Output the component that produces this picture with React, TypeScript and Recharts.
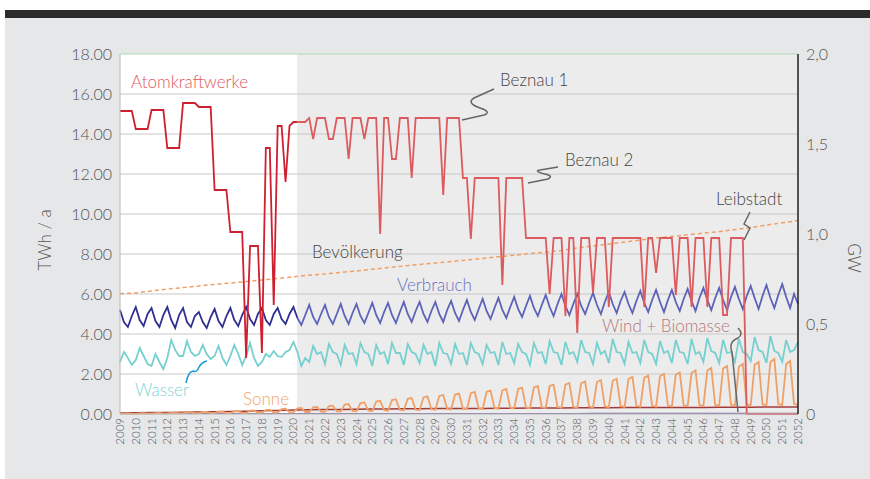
import React from "react";
import { LineChart, Line, XAxis, YAxis, ReferenceArea, ReferenceLine } from "recharts";

// quarterly values, 2009 Q1 .. 2052 Q1 (TWh / a)
const AKW = [
  15.15, 15.15, 15.15, 15.15, // 2009
  14.25, 14.25, 14.25, 14.25, // 2010
  15.2, 15.2, 15.2, 15.2, // 2011
  13.3, 13.3, 13.3, 13.3, // 2012
  15.55, 15.55, 15.55, 15.55, // 2013
  15.35, 15.35, 15.35, 15.35, // 2014
  11.2, 11.2, 11.2, 11.2, // 2015
  9.1, 9.1, 9.1, 9.1, // 2016
  2.8, 8.4, 8.4, 8.4, // 2017
  3.05, 13.3, 13.3, 5.45, // 2018
  14.4, 14.4, 11.6, 14.4, // 2019
  14.6, 14.6, 14.6, 14.6, // 2020
  14.8, 13.75, 14.8, 14.8, // 2021
  14.8, 13.75, 13.75, 14.8, // 2022
  14.8, 14.8, 12.75, 14.8, // 2023
  14.8, 14.8, 13.75, 14.8, // 2024
  14.8, 14.8, 9.0, 14.8, // 2025
  14.8, 12.75, 12.75, 14.8, // 2026
  14.8, 14.8, 11.8, 14.8, // 2027
  14.8, 14.8, 14.8, 14.8, // 2028
  14.8, 14.8, 10.95, 14.8, // 2029
  14.8, 14.8, 14.8, 11.8, // 2030
  11.8, 8.75, 11.8, 11.8, // 2031
  11.8, 11.8, 11.8, 11.8, // 2032
  11.8, 6.45, 11.8, 11.8, // 2033
  11.8, 11.8, 11.8, 8.8, // 2034
  8.8, 8.8, 8.8, 8.8, // 2035
  8.8, 6.0, 8.8, 8.8, // 2036
  8.8, 4.9, 8.8, 8.8, // 2037
  4.05, 8.8, 8.8, 8.8, // 2038
  6.05, 8.8, 8.8, 8.8, // 2039
  5.35, 8.8, 8.8, 8.8, // 2040
  8.8, 8.8, 8.8, 8.8, // 2041
  8.8, 5.35, 8.8, 8.8, // 2042
  7.05, 8.8, 8.8, 8.8, // 2043
  8.8, 5.95, 8.8, 8.8, // 2044
  8.8, 5.35, 8.8, 8.8, // 2045
  8.8, 5.35, 8.8, 8.8, // 2046
  8.8, 4.95, 4.95, 8.8, // 2047
  8.8, 8.8, 8.8, 0, // 2048
  0, 0, 0, 0, // 2049
  0, 0, 0, 0, // 2050
  0, 0, 0, 0, // 2051
  0, // 2052
];

const VERBRAUCH = [
  5.2, 4.6, 4.35, 4.9, // 2009
  5.35, 4.7, 4.4, 5.0, // 2010
  5.3, 4.65, 4.35, 4.95, // 2011
  5.35, 4.7, 4.3, 4.95, // 2012
  5.3, 4.6, 4.35, 4.9, // 2013
  5.1, 4.6, 4.3, 4.85, // 2014
  5.25, 4.65, 4.35, 4.9, // 2015
  5.3, 4.7, 4.4, 4.95, // 2016
  5.35, 4.75, 4.45, 5.0, // 2017
  5.3, 4.7, 4.45, 5.0, // 2018
  5.3, 4.75, 4.5, 5.0, // 2019
  5.35, 4.8, 4.45, 4.95, // 2020
  5.45, 4.85, 4.5, 5.0, // 2021
  5.45, 4.85, 4.5, 5.0, // 2022
  5.5, 4.9, 4.5, 5.05, // 2023
  5.5, 4.9, 4.55, 5.05, // 2024
  5.55, 4.95, 4.55, 5.1, // 2025
  5.55, 4.95, 4.55, 5.1, // 2026
  5.6, 5.0, 4.6, 5.15, // 2027
  5.6, 5.0, 4.6, 5.15, // 2028
  5.6, 5.0, 4.6, 5.2, // 2029
  5.65, 5.05, 4.65, 5.2, // 2030
  5.7, 5.1, 4.7, 5.25, // 2031
  5.75, 5.15, 4.75, 5.3, // 2032
  5.8, 5.2, 4.8, 5.35, // 2033
  5.85, 5.25, 4.85, 5.4, // 2034
  5.9, 5.3, 4.9, 5.45, // 2035
  5.95, 5.35, 4.9, 5.5, // 2036
  6.0, 5.4, 4.95, 5.5, // 2037
  6.0, 5.4, 5.0, 5.55, // 2038
  6.05, 5.45, 5.0, 5.6, // 2039
  6.1, 5.5, 5.05, 5.65, // 2040
  6.1, 5.5, 5.05, 5.65, // 2041
  6.15, 5.55, 5.1, 5.7, // 2042
  6.2, 5.6, 5.1, 5.7, // 2043
  6.2, 5.6, 5.15, 5.75, // 2044
  6.25, 5.65, 5.15, 5.8, // 2045
  6.3, 5.7, 5.2, 5.8, // 2046
  6.3, 5.7, 5.2, 5.85, // 2047
  6.35, 5.75, 5.25, 5.9, // 2048
  6.4, 5.8, 5.25, 5.9, // 2049
  6.45, 5.8, 5.3, 5.95, // 2050
  6.5, 5.85, 5.3, 6.0, // 2051
  5.5, // 2052
];

const WASSER = [
  2.6, 3.1, 2.8, 2.45, // 2009
  2.7, 3.3, 2.9, 2.5, // 2010
  2.4, 3.0, 2.6, 2.25, // 2011
  2.8, 3.7, 3.2, 2.9, // 2012
  2.9, 3.65, 3.1, 2.9, // 2013
  3.0, 3.45, 3.0, 2.75, // 2014
  2.9, 3.4, 2.8, 2.45, // 2015
  2.9, 3.45, 3.0, 2.45, // 2016
  2.9, 3.55, 2.8, 2.4, // 2017
  2.6, 3.0, 2.85, 3.15, // 2018
  2.9, 2.85, 3.1, 3.2, // 2019
  3.6, 3.1, 2.4, 2.8, // 2020
  2.6, 3.4, 3.0, 3.1, // 2021
  2.5, 3.5, 3.1, 3.0, // 2022
  2.45, 3.45, 3.0, 3.05, // 2023
  2.5, 3.55, 3.1, 3.0, // 2024
  2.4, 3.45, 3.0, 3.1, // 2025
  2.5, 3.55, 3.05, 3.05, // 2026
  2.45, 3.5, 3.1, 3.0, // 2027
  2.55, 3.45, 3.0, 3.1, // 2028
  2.4, 3.55, 3.05, 3.0, // 2029
  2.5, 3.5, 3.0, 3.05, // 2030
  2.45, 3.55, 3.1, 3.0, // 2031
  2.5, 3.45, 3.05, 3.1, // 2032
  2.45, 3.6, 3.0, 3.05, // 2033
  2.55, 3.5, 3.1, 3.0, // 2034
  2.45, 3.55, 3.05, 3.1, // 2035
  2.5, 3.65, 3.1, 3.05, // 2036
  2.45, 3.6, 3.0, 3.1, // 2037
  2.6, 3.7, 3.1, 3.05, // 2038
  2.5, 3.55, 3.0, 3.15, // 2039
  2.55, 3.75, 3.1, 3.05, // 2040
  2.5, 3.6, 3.05, 3.1, // 2041
  2.55, 3.7, 3.1, 3.0, // 2042
  2.5, 3.65, 3.05, 3.15, // 2043
  2.55, 3.7, 3.1, 3.05, // 2044
  2.5, 3.75, 3.0, 3.1, // 2045
  2.6, 3.8, 3.15, 3.05, // 2046
  2.55, 3.7, 3.05, 3.1, // 2047
  2.6, 3.75, 3.1, 3.0, // 2048
  2.65, 3.85, 3.2, 3.1, // 2049
  2.55, 3.9, 3.15, 3.05, // 2050
  2.6, 3.7, 3.1, 3.2, // 2051
  3.6, // 2052
];

const SONNE = [
  0.01, 0.02, 0.03, 0.01, // 2009
  0.01, 0.03, 0.04, 0.02, // 2010
  0.02, 0.04, 0.05, 0.02, // 2011
  0.02, 0.06, 0.07, 0.03, // 2012
  0.03, 0.08, 0.09, 0.03, // 2013
  0.03, 0.1, 0.11, 0.04, // 2014
  0.04, 0.12, 0.13, 0.04, // 2015
  0.04, 0.14, 0.15, 0.05, // 2016
  0.05, 0.17, 0.18, 0.06, // 2017
  0.06, 0.2, 0.22, 0.07, // 2018
  0.07, 0.24, 0.26, 0.08, // 2019
  0.08, 0.28, 0.3, 0.1, // 2020
  0.1, 0.33, 0.35, 0.12, // 2021
  0.11, 0.4, 0.42, 0.14, // 2022
  0.12, 0.47, 0.5, 0.15, // 2023
  0.13, 0.55, 0.58, 0.17, // 2024
  0.15, 0.62, 0.66, 0.19, // 2025
  0.16, 0.7, 0.74, 0.2, // 2026
  0.18, 0.76, 0.8, 0.22, // 2027
  0.2, 0.83, 0.88, 0.24, // 2028
  0.21, 0.9, 0.95, 0.25, // 2029
  0.22, 0.97, 1.02, 0.27, // 2030
  0.24, 1.04, 1.1, 0.28, // 2031
  0.25, 1.11, 1.17, 0.3, // 2032
  0.26, 1.18, 1.25, 0.31, // 2033
  0.28, 1.25, 1.32, 0.33, // 2034
  0.29, 1.33, 1.4, 0.34, // 2035
  0.3, 1.4, 1.47, 0.35, // 2036
  0.31, 1.47, 1.55, 0.36, // 2037
  0.32, 1.54, 1.62, 0.37, // 2038
  0.33, 1.6, 1.7, 0.38, // 2039
  0.34, 1.66, 1.76, 0.39, // 2040
  0.35, 1.75, 1.85, 0.4, // 2041
  0.36, 1.82, 1.92, 0.41, // 2042
  0.37, 1.9, 2.0, 0.42, // 2043
  0.38, 1.97, 2.08, 0.43, // 2044
  0.39, 2.06, 2.18, 0.44, // 2045
  0.4, 2.17, 2.3, 0.45, // 2046
  0.41, 2.27, 2.4, 0.46, // 2047
  0.42, 2.36, 2.5, 0.47, // 2048
  0.43, 2.45, 2.6, 0.48, // 2049
  0.44, 2.6, 2.75, 0.49, // 2050
  0.45, 2.5, 2.65, 0.5, // 2051
  0.46, // 2052
];

// yearly values, 2009 .. 2052
const BEVOELKERUNG = [
  6.02, 6.05, 6.15, 6.25, 6.32, 6.4, 6.48, 6.55, 6.62, 6.7, 6.78, 6.86,
  6.94, 7.0, 7.08, 7.15, 7.24, 7.32, 7.4, 7.48, 7.55, 7.62, 7.7, 7.78,
  7.86, 7.94, 8.02, 8.1, 8.18, 8.3, 8.4, 8.5, 8.6, 8.7, 8.8, 8.88,
  8.96, 9.05, 9.12, 9.22, 9.32, 9.45, 9.56, 9.67,
];

const WIND_BIOMASSE = [
  0.05, 0.06, 0.07, 0.08, 0.09, 0.1, 0.11, 0.12, 0.14, 0.16, 0.18, 0.2,
  0.21, 0.22, 0.23, 0.24, 0.25, 0.25, 0.26, 0.26, 0.27, 0.27, 0.28, 0.28,
  0.29, 0.29, 0.3, 0.3, 0.3, 0.31, 0.31, 0.31, 0.32, 0.32, 0.32, 0.33,
  0.33, 0.33, 0.34, 0.34, 0.34, 0.35, 0.35, 0.35,
];

// GW, yearly (lowest line along the axis)
const SONSTIGE_GW = [
  0.001, 0.001, 0.001, 0.001, 0.001, 0.001, 0.001, 0.001, 0.001, 0.001, 0.001, 0.001,
  0.002, 0.002, 0.002, 0.002, 0.002, 0.002, 0.002, 0.002, 0.002, 0.002, 0.002, 0.002,
  0.002, 0.002, 0.002, 0.002, 0.002, 0.002, 0.003, 0.003, 0.003, 0.003, 0.003, 0.003,
  0.003, 0.003, 0.003, 0.003, 0.003, 0.003, 0.003, 0.003,
];

const YEARS = [
  2009, 2010, 2011, 2012, 2013, 2014, 2015, 2016, 2017, 2018, 2019, 2020,
  2021, 2022, 2023, 2024, 2025, 2026, 2027, 2028, 2029, 2030, 2031, 2032,
  2033, 2034, 2035, 2036, 2037, 2038, 2039, 2040, 2041, 2042, 2043, 2044,
  2045, 2046, 2047, 2048, 2049, 2050, 2051, 2052,
];

const LEFT_TICKS = [0, 2, 4, 6, 8, 10, 12, 14, 16, 18];
const RIGHT_TICKS = [0, 0.5, 1, 1.5, 2];
const PROGNOSE_AB = 45; // index of 2020 Q2, start of the forecast

const data = AKW.map((v, i) => ({
  t: 2009 + i / 4,
  akwHist: i <= PROGNOSE_AB ? v : null,
  akwProg: i >= PROGNOSE_AB ? v : null,
  verbHist: i <= PROGNOSE_AB ? VERBRAUCH[i] : null,
  verbProg: i >= PROGNOSE_AB ? VERBRAUCH[i] : null,
  wasser: WASSER[i],
  sonne: SONNE[i],
  bev: i % 4 === 0 ? BEVOELKERUNG[i / 4] : null,
  wind: i % 4 === 0 ? WIND_BIOMASSE[i / 4] : null,
  rest: i % 4 === 0 ? SONSTIGE_GW[i / 4] : null,
}));

const FONT = 'Lato, "Open Sans", sans-serif';

const YearTick = (props: any) => {
  const { x, y, payload } = props;
  return (
    <text
      transform={`translate(${x + 4},${y}) rotate(-90)`}
      textAnchor="end"
      fontSize={11.5}
      fill="#555"
      fontFamily={FONT}
      fontWeight={300}
    >
      {payload.value}
    </text>
  );
};

const fmtGW = (v: number) => (v === 0 ? "0" : v.toFixed(1).replace(".", ","));

export default function App() {
  const label = { fontFamily: FONT, fontWeight: 300, fontSize: 17 } as const;
  return (
    <div style={{ position: "absolute", left: 0, top: 0, width: 870, height: 479, background: "#fff" }}>
      <div style={{ position: "absolute", left: 5, top: 10, right: 0, height: 8, background: "#2b2b2b" }} />
      <div style={{ position: "absolute", left: 5, top: 18, right: 0, bottom: 0, background: "#e6e7e8" }} />
      <div style={{ position: "absolute", left: 0, top: 0 }}>
        <LineChart width={870} height={479} data={data} margin={{ top: 54, right: 22, bottom: 20, left: 60 }}>
          <ReferenceArea x1={2009} x2={2020.25} y1={0} y2={18} fill="#ffffff" fillOpacity={1} stroke="none" ifOverflow="visible" />
          <ReferenceArea x1={2020.25} x2={2052} y1={0} y2={18} fill="#ececec" fillOpacity={1} stroke="none" ifOverflow="visible" />
          {LEFT_TICKS.slice(1, -1).map((v) => (
            <ReferenceLine key={v} y={v} stroke="#c8c8c8" strokeWidth={1} />
          ))}
          <ReferenceLine y={18} stroke="#a8dcb4" strokeWidth={1} />
          <XAxis
            dataKey="t"
            type="number"
            domain={[2009, 2052]}
            ticks={YEARS}
            interval={0}
            tick={<YearTick />}
            tickLine={false}
            tickSize={4}
            tickMargin={0}
            height={45}
            axisLine={{ stroke: "#b8b8b8" }}
          />
          <YAxis
            yAxisId={0}
            domain={[0, 18]}
            ticks={LEFT_TICKS}
            interval={0}
            width={60}
            tickFormatter={(v: number) => v.toFixed(2)}
            tickLine={false}
            axisLine={{ stroke: "#b8b8b8" }}
            tick={{ fill: "#555", fontSize: 16, fontFamily: FONT, fontWeight: 300 }}
          />
          <YAxis
            yAxisId="gw"
            orientation="right"
            type="number"
            domain={[0, 2]}
            allowDataOverflow
            ticks={RIGHT_TICKS}
            interval={0}
            width={50}
            tickFormatter={fmtGW}
            tickLine={false}
            axisLine={{ stroke: "#222", strokeWidth: 1.5 }}
            tick={{ fill: "#555", fontSize: 16, fontFamily: FONT, fontWeight: 300, textAnchor: "start" }}
          />
          <Line yAxisId="gw" dataKey="rest" stroke="#7e6aa8" strokeWidth={1.5} dot={false} connectNulls isAnimationActive={false} />
          <Line dataKey="wind" stroke="#a33a3a" strokeWidth={1.5} dot={false} connectNulls isAnimationActive={false} />
          <Line dataKey="sonne" stroke="#f0a066" strokeWidth={1.8} dot={false} isAnimationActive={false} />
          <Line dataKey="wasser" stroke="#76d0cf" strokeWidth={1.8} dot={false} isAnimationActive={false} />
          <Line dataKey="verbHist" stroke="#2e3090" strokeWidth={1.8} dot={false} isAnimationActive={false} />
          <Line dataKey="verbProg" stroke="#5c62b8" strokeWidth={1.8} dot={false} isAnimationActive={false} />
          <Line dataKey="bev" stroke="#f0a066" strokeWidth={1.5} strokeDasharray="4 3" dot={false} connectNulls isAnimationActive={false} />
          <Line dataKey="akwHist" stroke="#cf2030" strokeWidth={1.8} dot={false} isAnimationActive={false} />
          <Line dataKey="akwProg" stroke="#dc5b5e" strokeWidth={1.8} dot={false} isAnimationActive={false} />
        </LineChart>
      </div>
      <svg width={870} height={479} style={{ position: "absolute", left: 0, top: 0, pointerEvents: "none" }}>
        <text x={131} y={88} fill="#e0585d" {...label}>Atomkraftwerke</text>
        <text x={500} y={86} fill="#444" {...label}>Beznau 1</text>
        <text x={565} y={166} fill="#444" {...label}>Beznau 2</text>
        <text x={716} y={205} fill="#444" {...label}>Leibstadt</text>
        <text x={312} y={258} fill="#444" {...label}>Bevölkerung</text>
        <text x={397} y={291} fill="#6a6fc2" {...label}>Verbrauch</text>
        <text x={602} y={332} fill="#b7777b" {...label}>Wind + Biomasse</text>
        <text x={135} y={396} fill="#80d4d4" {...label}>Wasser</text>
        <text x={243} y={405} fill="#f1a36d" {...label}>Sonne</text>
        <text transform="translate(51,240) rotate(-90)" textAnchor="middle" fill="#555" {...label}>TWh / a</text>
        <text transform="translate(848,258) rotate(90)" textAnchor="middle" fill="#555" {...label}>GW</text>
        <g fill="none" stroke="#666" strokeWidth={1.5}>
          <path d="M462,120 L484,115 Q492,112 480,108 Q466,103 474,98 L494,89" />
          <path d="M528,183 L548,179 Q554,176 545,174 Q533,171 540,170 L558,167" />
          <path d="M744,240 L750,228 L744,224 L750,212" />
          <path d="M738,328 Q744,334 738,338 Q728,342 732,352 L738,412" />
        </g>
        <path d="M186,383 Q188,372 193,371 Q197,373 199,367 Q202,362 207,361" fill="none" stroke="#1a9ad6" strokeWidth={1.5} />
      </svg>
    </div>
  );
}
